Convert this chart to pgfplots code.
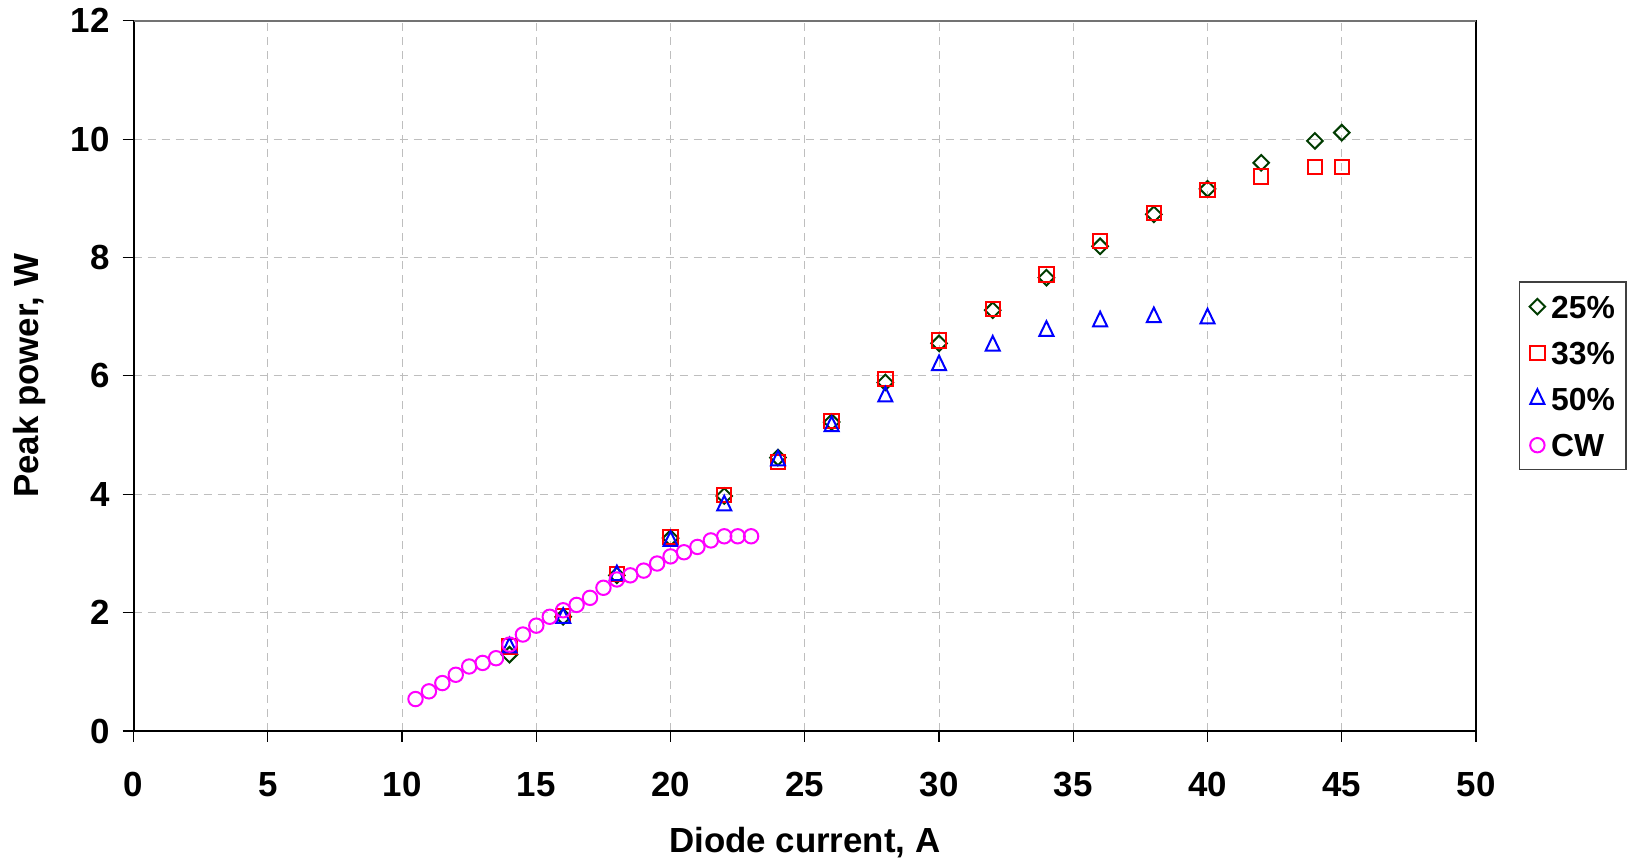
\documentclass[border=0pt]{standalone}
\usepackage{fontspec}
\setmainfont{Liberation Sans}
\usepackage{pgfplots}
\pgfplotsset{compat=1.18}
\definecolor{dgreen}{RGB}{0,60,0}
\definecolor{mred}{RGB}{255,0,0}
\definecolor{mblue}{RGB}{0,0,255}
\definecolor{mmag}{RGB}{255,0,255}
\definecolor{gridgray}{RGB}{190,190,190}
\begin{document}
\begin{tikzpicture}
\begin{axis}[
  scale only axis,
  width=671.2bp, height=355.1bp,
  xmin=0, xmax=50, ymin=0, ymax=12,
  xtick={0,5,...,50}, ytick={0,2,...,12},
  xtick pos=bottom, ytick pos=left,
  tick align=outside,
  major tick length=5.5bp,
  every tick/.style={black, line width=0.6bp},
  axis line style={black, line width=1bp},
  grid=major,
  major grid style={dash pattern=on 4bp off 3bp, color=gridgray, line width=0.5bp},
  /pgf/number format/assume math mode=true,
  tick label style={font=\bfseries\fontsize{17.5}{20}\selectfont},
  xticklabel style={yshift=-11.7bp},
  yticklabel style={xshift=-3bp},
  xlabel={Diode current, A},
  ylabel={Peak power, W},
  label style={font=\bfseries\fontsize{17.5}{20}\selectfont},
  xlabel style={at={(axis description cs:0.5,-0.1577)}, anchor=center},
  ylabel style={at={(axis description cs:-0.0775,0.5)}, anchor=center},
  legend style={at={(1,0.5)}, anchor=west, xshift=21.5bp,
    draw=black!75, line width=0.6bp,
    font=\bfseries\fontsize{16}{18}\selectfont,
    inner xsep=5bp, inner ysep=5bp,
    row sep=8.6bp,
    /tikz/every odd column/.append style={column sep=2.5bp},
    nodes={inner xsep=0.5bp, inner ysep=1.5bp, text height=11.5bp, text depth=0bp, anchor=west}},
  legend cell align=left,
]
\addplot[only marks, mark=square, mark size=2.75bp, mark options={dgreen, rotate=45, line width=1bp, fill=none}, draw=dgreen] coordinates {
(14,1.29) (16,1.93) (18,2.63) (20,3.26) (22,3.97) (24,4.62) (26,5.22) (28,5.89)
(30,6.55) (32,7.11) (34,7.66) (36,8.19) (38,8.73) (40,9.16) (42,9.60) (44,9.97) (45,10.11)
};
\addlegendentry{25\%}
\addplot[only marks, mark=square, mark size=3.6bp, mark options={mred, line width=1bp, fill=none}, draw=mred] coordinates {
(14,1.43) (16,1.94) (18,2.65) (20,3.28) (22,3.99) (24,4.55) (26,5.24) (28,5.95)
(30,6.60) (32,7.13) (34,7.71) (36,8.28) (38,8.75) (40,9.14) (42,9.37) (44,9.53) (45,9.53)
};
\addlegendentry{33\%}
\addplot[only marks, mark=triangle, mark size=4.05bp, mark options={mblue, yscale=1.2, line width=1bp, fill=none}, draw=mblue] coordinates {
(14,1.41) (16,1.91) (18,2.63) (20,3.21) (22,3.81) (24,4.57) (26,5.15) (28,5.65)
(30,6.18) (32,6.51) (34,6.76) (36,6.92) (38,6.99) (40,6.97)
};
\addlegendentry{50\%}
\addplot[only marks, mark=o, mark size=3.6bp, mark options={mmag, line width=1bp, fill=none}, draw=mmag] coordinates {
(10.5,0.54) (11,0.67) (11.5,0.81) (12,0.95) (12.5,1.09) (13,1.15) (13.5,1.23) (14,1.46)
(14.5,1.63) (15,1.78) (15.5,1.93) (16,2.04) (16.5,2.13) (17,2.25) (17.5,2.42) (18,2.56)
(18.5,2.63) (19,2.71) (19.5,2.83) (20,2.95) (20.5,3.02) (21,3.11) (21.5,3.22) (22,3.29)
(22.5,3.29) (23,3.29)
};
\addlegendentry{CW}
\draw[black!55, line width=1bp] (rel axis cs:0,1) -- (rel axis cs:1,1);
\end{axis}
\pgfresetboundingbox
\useasboundingbox ([shift={(-66.8bp,-66.5bp)}]current axis.south west) rectangle ([shift={(80bp,10.4bp)}]current axis.north east);
\end{tikzpicture}
\end{document}
